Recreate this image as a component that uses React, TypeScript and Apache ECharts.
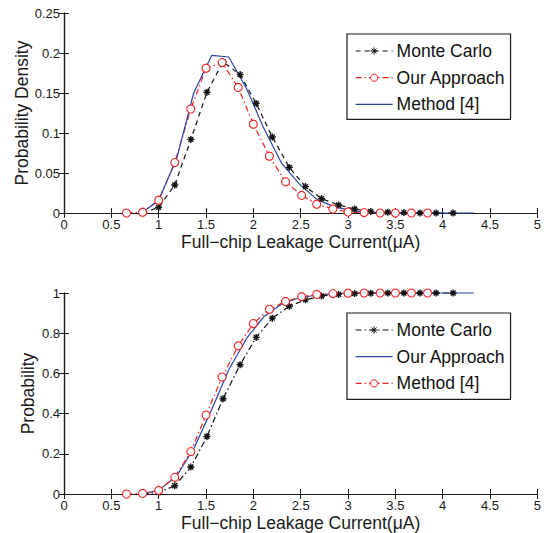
import React, { useEffect, useRef } from "react";
import * as echarts from "echarts";

// ---- Top plot (probability density) ----
const mcX = [0.83, 1.0, 1.17, 1.34, 1.51, 1.68, 1.86, 2.03, 2.2, 2.38, 2.55, 2.72, 2.9, 3.07, 3.24, 3.42, 3.59, 3.76, 3.93, 4.11];
const mcPdf = [0.0, 0.007, 0.035, 0.092, 0.151, 0.189, 0.173, 0.137, 0.095, 0.057, 0.033, 0.018, 0.01, 0.005, 0.002, 0.001, 0.0005, 0, 0, 0];
const oursX = [0.66, 0.83, 1.0, 1.17, 1.34, 1.5, 1.67, 1.84, 2.0, 2.17, 2.34, 2.51, 2.67, 2.84, 3.0, 3.17, 3.34, 3.5, 3.67, 3.84];
const oursPdf = [0, 0.001, 0.016, 0.063, 0.13, 0.181, 0.188, 0.157, 0.111, 0.071, 0.039, 0.022, 0.011, 0.005, 0.0013, 0.0005, 0, 0, 0, 0];
const m4X = [0.82, 1.0, 1.19, 1.37, 1.56, 1.74, 1.93, 2.11, 2.3, 2.48, 2.67, 2.85, 3.04, 3.22, 3.41, 3.59, 3.78, 3.96, 4.15, 4.33];
const m4Pdf = [0, 0.016, 0.068, 0.15, 0.197, 0.195, 0.155, 0.106, 0.062, 0.037, 0.017, 0.008, 0.003, 0.001, 0, 0, 0, 0, 0, 0];

// ---- Bottom plot (cumulative probability) ----
const mcCdf = [0, 0.007, 0.041, 0.134, 0.286, 0.474, 0.643, 0.779, 0.875, 0.934, 0.966, 0.985, 0.993, 0.997, 0.999, 1, 1, 1, 1, 1];
const oursCdfB = [0, 0.018, 0.09, 0.225, 0.42, 0.618, 0.775, 0.882, 0.945, 0.975, 0.99, 0.996, 0.999, 1, 1, 1, 1, 1, 1, 1]; // blue "Our Approach" (bottom), on m4X grid
const m4CdfB = [0, 0.003, 0.018, 0.083, 0.211, 0.393, 0.582, 0.737, 0.848, 0.919, 0.958, 0.982, 0.993, 0.997, 0.999, 1, 1, 1, 1, 1]; // red "Method [4]" (bottom), on oursX grid

const legendNames = ["Monte Carlo", "Our Approach", "Method [4]"];
const xTitle = "Full\u2212chip Leakage Current(\u03bcA)";
const yTitleTop = "Probability Density";
const yTitleBottom = "Probability";

const FONT = "Liberation Sans, Arial, Helvetica, sans-serif";
const BLACK = "#111111";
const RED = "#ee2222";
const BLUE = "#2a44a8";
const AXIS = "#1a1a1a";
const STAR = "path://M5 0L5 10M0 5L10 5M1.5 1.5L8.5 8.5M1.5 8.5L8.5 1.5";
const NOSYM = "path://M0 0L10 0L10 10L0 10Z";

const zip = (xs: number[], ys: number[]) => xs.map((x, i) => [x, ys[i]]);

function axesFor(gridIndex: number, ymax: number, yint: number, yName: string, nameGap: number) {
  const common = {
    gridIndex,
    axisLine: { show: true, lineStyle: { color: AXIS, width: 1.2 } },
    axisTick: { show: true, inside: true, length: 5, lineStyle: { color: AXIS, width: 1 } },
    splitLine: { show: false },
  };
  const x = [
    {
      ...common,
      type: "value",
      min: 0,
      max: 5,
      interval: 0.5,
      position: "bottom",
      axisLabel: { color: AXIS, fontSize: 13, fontFamily: FONT, margin: 5 },
      name: xTitle,
      nameLocation: "middle",
      nameGap: 20,
      nameTextStyle: { color: AXIS, fontSize: 17.5, fontFamily: FONT, verticalAlign: "top" },
    },
    { ...common, type: "value", min: 0, max: 5, interval: 0.5, position: "top", axisLabel: { show: false } },
  ];
  const y = [
    {
      ...common,
      type: "value",
      min: 0,
      max: ymax,
      interval: yint,
      position: "left",
      axisLabel: { color: AXIS, fontSize: 13, fontFamily: FONT, margin: 4 },
      name: yName,
      nameLocation: "middle",
      nameGap,
      nameMoveOverlap: false,
      nameRotate: 90,
      nameTextStyle: { color: AXIS, fontSize: 17.5, fontFamily: FONT },
    },
    { ...common, type: "value", min: 0, max: ymax, interval: yint, position: "right", axisLabel: { show: false } },
  ];
  return { x, y };
}

function lineSeries(name: string, data: number[][], xi: number, yi: number, color: string, dash: any, symbol: string, symbolSize: number) {
  const isStar = symbol === STAR;
  const isNone = symbol === NOSYM;
  return {
    type: "line",
    name,
    xAxisIndex: xi,
    yAxisIndex: yi,
    data,
    smooth: false,
    symbol,
    symbolSize,
    showSymbol: !isNone,
    clip: false,
    lineStyle: { color, width: 1.2, type: dash },
    itemStyle: isStar
      ? { color: "rgba(0,0,0,0)", borderColor: color, borderWidth: 1.4 }
      : isNone
      ? { color: "rgba(0,0,0,0)", borderColor: "rgba(0,0,0,0)", borderWidth: 0 }
      : { color: "#ffffff", borderColor: color, borderWidth: 1.1 },
    emphasis: { disabled: true },
  };
}

export default function App() {
  const ref = useRef<HTMLDivElement>(null);
  useEffect(() => {
    if (!ref.current) return;
    const chart = echarts.init(ref.current, null, { renderer: "svg" });
    const top = axesFor(0, 0.25, 0.05, yTitleTop, 33);
    const bot = axesFor(1, 1, 0.2, yTitleBottom, 27);
    const dashDot = [6, 3, 1.5, 3];
    const botNames = ["MC_b", "OA_b", "M4_b"];
    const legendCommon = {
      orient: "vertical",
      left: 347,
      itemWidth: 37,
      itemHeight: 9,
      itemGap: 6.7,
      borderColor: AXIS,
      borderWidth: 1.2,
      backgroundColor: "#fff",
      selectedMode: false,
      textStyle: { color: "#111", fontSize: 17.5, fontFamily: FONT, lineHeight: 20, padding: [0, 0, 0, -1] },
      lineStyle: { width: 1.2 },
      itemStyle: { borderWidth: 1 },
    };
    chart.setOption({
      animation: false,
      backgroundColor: "#fff",
      grid: [
        { left: 64, right: 5, top: 13, height: 200 },
        { left: 64, right: 5, top: 293, height: 202 },
      ],
      xAxis: [...top.x, ...bot.x],
      yAxis: [...top.y, ...bot.y],
      legend: [
        { ...legendCommon, top: 34, padding: [7, 5, 5, 8], data: legendNames },
        {
          ...legendCommon,
          top: 313,
          padding: [7, 5, 6, 8],
          data: botNames,
          formatter: (n: string) => legendNames[botNames.indexOf(n)],
        },
      ],
      series: [
        lineSeries(legendNames[0], zip(mcX, mcPdf), 0, 0, BLACK, [5, 4], STAR, 7),
        lineSeries(legendNames[1], zip(oursX, oursPdf), 0, 0, RED, dashDot, "circle", 8),
        lineSeries(legendNames[2], zip(m4X, m4Pdf), 0, 0, BLUE, "solid", NOSYM, 1),
        lineSeries(botNames[0], zip(mcX, mcCdf), 2, 2, BLACK, dashDot, STAR, 7),
        lineSeries(botNames[1], zip(m4X, oursCdfB), 2, 2, BLUE, "solid", NOSYM, 1),
        lineSeries(botNames[2], zip(oursX, m4CdfB), 2, 2, RED, dashDot, "circle", 8),
      ],
    });
    return () => chart.dispose();
  }, []);
  return <div ref={ref} style={{ position: "fixed", left: 0, top: 0, width: 544, height: 533 }} />;
}
